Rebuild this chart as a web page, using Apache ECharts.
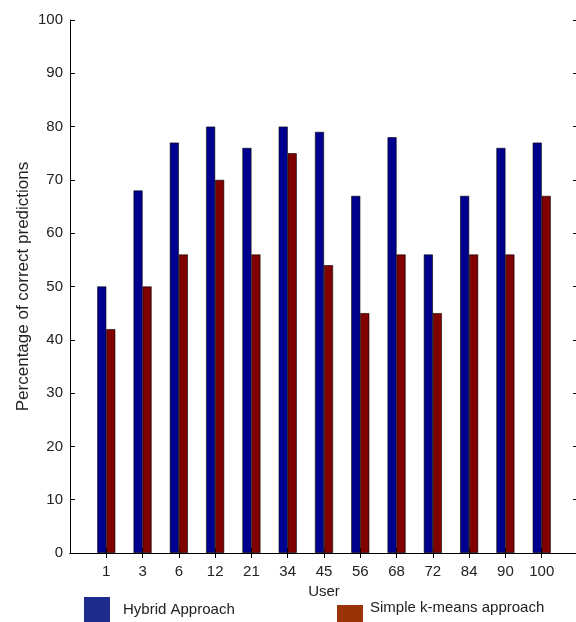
<!DOCTYPE html>
<html>
<head>
<meta charset="utf-8">
<script src="https://cdn.jsdelivr.net/npm/echarts@6/dist/echarts.min.js"></script>
<style>
  html, body { margin: 0; padding: 0; background: #fff; }
  #chart { width: 576px; height: 622px; }
</style>
</head>
<body>
<div id="chart"></div>
<script>
// users on the x axis
var users = ['1', '3', '6', '12', '21', '34', '45', '56', '68', '72', '84', '90', '100'];
// percentage of correct predictions
var hybrid = [50, 68, 77, 80, 76, 80, 79, 67, 78, 56, 67, 76, 77];
var kmeans = [42, 50, 56, 70, 56, 75, 54, 45, 56, 45, 56, 56, 67];
var yTicks = [0, 10, 20, 30, 40, 50, 60, 70, 80, 90, 100];

var font = "'Liberation Sans', Arial, sans-serif";

// matlab style axis: one empty slot each side so bars sit at 1..13 of 0..14
var xData = [''].concat(users).concat(['']);
function pad(arr) { return ['-'].concat(arr).concat(['-']); }

var myChart = echarts.init(document.getElementById('chart'));
var tickShow = function (i) { return i > 0 && i < xData.length - 1; };

var option = {
    backgroundColor: '#fff',
    animation: false,
    grid: { left: 70, top: 20, right: -2, bottom: 69, outerBoundsMode: 'none' },
    legend: [{
        left: 84, top: 597, padding: 0,
        icon: 'rect',
        itemWidth: 26, itemHeight: 25,
        data: [{ name: 'Hybrid Approach', itemStyle: { color: '#1c2b8c', borderWidth: 0 } }],
        textStyle: { fontFamily: font, fontSize: 15, color: '#222', padding: [0, 0, 0, 8] }
    }, {
        left: 337, top: 600, padding: 0,
        icon: 'rect',
        itemWidth: 26, itemHeight: 20,
        data: [{ name: 'Simple k-means approach', itemStyle: { color: '#9a3406', borderWidth: 0 } }],
        formatter: '{t|{name}}',
        textStyle: {
            fontFamily: font, fontSize: 15, color: '#222', padding: [0, 0, 0, 2],
            rich: { t: { fontFamily: font, fontSize: 15, color: '#222', lineHeight: 30, verticalAlign: 'top' } }
        }
    }],
    xAxis: [{
        type: 'category',
        data: xData,
        boundaryGap: false,
        position: 'bottom',
        name: 'User',
        nameLocation: 'middle',
        nameGap: 31,
        nameTextStyle: { fontFamily: font, fontSize: 15, color: '#222' },
        axisLine: { lineStyle: { color: '#000', width: 1 } },
        axisTick: { inside: true, length: 5, interval: tickShow, lineStyle: { color: '#000' } },
        axisLabel: { interval: 0, margin: 11, fontFamily: font, fontSize: 15, color: '#222' },
        splitLine: { show: false }
    }, {
        type: 'category',
        data: xData,
        boundaryGap: false,
        position: 'top',
        axisLine: { lineStyle: { color: '#000', width: 1 } },
        axisTick: { inside: true, length: 5, interval: tickShow, lineStyle: { color: '#000' } },
        axisLabel: { show: false },
        splitLine: { show: false }
    }],
    yAxis: [{
        type: 'value',
        min: yTicks[0],
        max: yTicks[yTicks.length - 1],
        interval: 10,
        position: 'left',
        name: 'Percentage of correct predictions',
        nameLocation: 'middle',
        nameGap: 38,
        nameMoveOverlap: false,
        nameTextStyle: { fontFamily: font, fontSize: 17, color: '#222' },
        axisLine: { show: true, lineStyle: { color: '#000', width: 1 } },
        axisTick: { show: true, inside: true, length: 5, lineStyle: { color: '#000' } },
        axisLabel: { margin: 7, fontFamily: font, fontSize: 15, color: '#222' },
        splitLine: { show: false }
    }, {
        type: 'value',
        min: yTicks[0],
        max: yTicks[yTicks.length - 1],
        interval: 10,
        position: 'right',
        axisLine: { show: true, lineStyle: { color: '#000', width: 1 } },
        axisTick: { show: true, inside: true, length: 5, lineStyle: { color: '#000' } },
        axisLabel: { show: false },
        splitLine: { show: false }
    }],
    series: [{
        name: 'Hybrid Approach',
        type: 'bar',
        data: pad(hybrid),
        barWidth: 9,
        barGap: '0%',
        itemStyle: { color: '#00008f', borderColor: '#000', borderWidth: 0.6 }
    }, {
        name: 'Simple k-means approach',
        type: 'bar',
        data: pad(kmeans),
        barWidth: 9,
        barGap: '0%',
        itemStyle: { color: '#800000', borderColor: '#000', borderWidth: 0.6 }
    }]
};

myChart.setOption(option);
</script>
</body>
</html>
